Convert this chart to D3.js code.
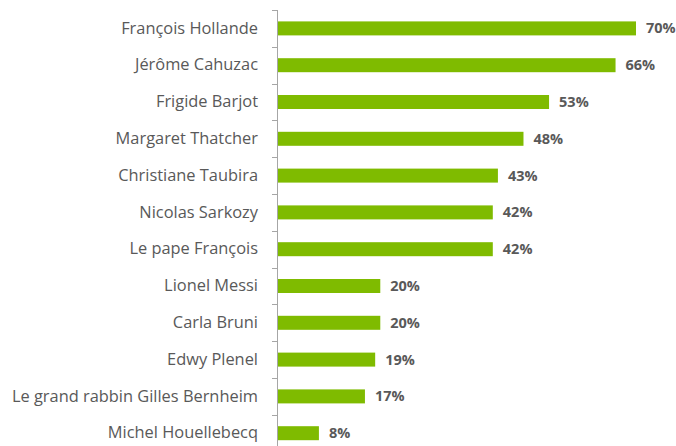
<!DOCTYPE html>
<html>
<head>
<meta charset="utf-8">
<script src="https://cdn.jsdelivr.net/npm/d3@7"></script>
<style>
  body { margin: 0; background: #fff; }
  text { font-family: "Open Sans", Lato, sans-serif; }
</style>
</head>
<body>
<div id="graph"></div>
<script>
// chart data
const names = ["François Hollande", "Jérôme Cahuzac", "Frigide Barjot", "Margaret Thatcher",
	"Christiane Taubira", "Nicolas Sarkozy", "Le pape François", "Lionel Messi",
	"Carla Bruni", "Edwy Plenel", "Le grand rabbin Gilles Bernheim", "Michel Houellebecq"];
const values = [70, 66, 53, 48, 43, 42, 42, 20, 20, 19, 17, 8];

const width = 676, height = 446;
const axisX = 277, topY = 10, step = 36.8, barH = 14;

const graph = d3.select("div#graph")
	.append("svg")
	.attr("width", width)
	.attr("height", height);

const xScale = d3.scaleLinear()
	.range([axisX + 1, 636])
	.domain([0, 70]);

const yScale = d3.scaleBand()
	.range([topY, topY + step * names.length])
	.domain(names)
	.padding(0);

// category axis, labels only
const yAxis = d3.axisLeft(yScale).tickSize(0).tickPadding(19);
const ax = graph.append("g")
	.attr("class", "y axis")
	.attr("transform", `translate(${axisX}, 0)`)
	.call(yAxis);
ax.select(".domain").remove();
ax.selectAll("text")
	.attr("fill", "#595959")
	.style("font-size", "16.4px")
	.style("font-family", "'Open Sans', sans-serif");

// axis line + boundary ticks
graph.append("line")
	.attr("x1", axisX + 0.5).attr("x2", axisX + 0.5)
	.attr("y1", topY).attr("y2", yScale.range()[1])
	.attr("stroke", "#a6a6a6");
graph.selectAll("line.tick")
	.data(names)
	.enter().append("line")
	.attr("class", "tick")
	.attr("x1", axisX - 5).attr("x2", axisX)
	.attr("y1", d => Math.round(yScale(d)) + 0.5)
	.attr("y2", d => Math.round(yScale(d)) + 0.5)
	.attr("stroke", "#a6a6a6");

// bars
graph.selectAll("rect.bar")
	.data(names)
	.enter().append("rect")
	.attr("class", "bar")
	.attr("x", xScale(0))
	.attr("y", d => yScale(d) + (step - barH) / 2)
	.attr("width", (d, i) => xScale(values[i]) - xScale(0))
	.attr("height", barH)
	.attr("fill", "#7fbb00");

// value labels
graph.selectAll("text.val")
	.data(names)
	.enter().append("text")
	.attr("class", "val")
	.attr("x", (d, i) => xScale(values[i]) + 10)
	.attr("y", d => yScale(d) + step / 2)
	.attr("dy", "0.35em")
	.attr("fill", "#595959")
	.style("font-size", "14.5px")
	.style("font-weight", "bold")
	.text((d, i) => values[i] + "%");
</script>
</body>
</html>
